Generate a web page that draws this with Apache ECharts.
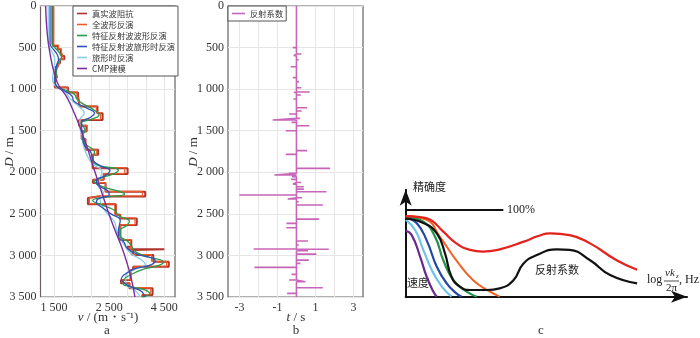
<!DOCTYPE html>
<html><head><meta charset="utf-8">
<script src="https://cdn.jsdelivr.net/npm/echarts@6/dist/echarts.min.js"></script>
<style>html,body{margin:0;padding:0;background:#fff}#c{width:700px;height:338px}</style>
</head><body><div id="c"></div>
<script>
// ---------- Tick labels ----------
const depthTicks = [0,500,1000,1500,2000,2500,3000,3500];
const depthTickLabels = ['0','500','1 000','1 500','2 000','2 500','3 000','3 500'];
const velGridValues = [1500,2000,2500,3000,3500,4000,4500];
const velTickValues = [1500,3000,4500];
const velTickLabels = ['1 500','2 500','4 500'];
const tGridValues = [-3,-2,-1,0,1,2,3];
const tTickValues = [-3,-1,1,3];
const tTickLabels = ['-3','-1','1','3'];

// ---------- Panel a: series names ----------
const seriesNames = ['真实波阻抗','全波形反演','特征反射波波形反演','特征反射波旅形时反演','旅形时反演','CMP建模'];

// True model: layer tops (m) and velocities (m/s)
const trueTop = [0,480,520,560,600,640,690,730,800,860,980,1040,1110,1210,1290,1370,1440,1510,1600,1730,1790,1950,2020,2090,2130,2235,2290,2310,2385,2510,2555,2635,2815,2895,2925,2935,2995,3075,3135,3175,3295,3335,3395,3475];
const trueVel = [1470,1600,1680,1720,1780,1660,1600,1540,1580,1520,1880,2150,2200,2680,2820,2180,2380,2250,2350,2700,2550,3500,2850,2560,2900,3980,2700,2420,3180,3300,3750,3300,3600,3500,4500,3650,4200,4620,3650,3580,3320,3550,4180,3900];

// Full waveform inversion: layer tops and velocities
const fwiTop = [0,470,515,555,595,640,690,730,800,860,975,1035,1105,1205,1285,1365,1435,1505,1600,1725,1785,1945,2015,2085,2125,2230,2285,2305,2380,2505,2550,2630,2810,2890,2990,3070,3130,3170,3290,3330,3390,3470];
const fwiVel = [1490,1620,1700,1730,1760,1650,1600,1550,1590,1530,1860,2120,2180,2650,2760,2220,2400,2260,2360,2660,2560,3420,2860,2590,2900,3900,2720,2460,3150,3290,3700,3310,3580,3600,4150,4560,3680,3590,3350,3560,4130,3920];

// [depth, velocity]
const greenPts = [[0,1440],[450,1440],[500,1520],[560,1640],[620,1700],[680,1620],[740,1560],[820,1560],[900,1530],[960,1560],[1010,1800],[1060,2050],[1120,2120],[1180,2300],[1240,2550],[1310,2720],[1360,2520],[1410,2230],[1450,2300],[1500,2340],[1560,2260],[1650,2330],[1760,2600],[1820,2560],[1900,2620],[1975,3250],[2025,3080],[2065,2780],[2110,2600],[2170,2800],[2220,3200],[2260,3420],[2300,2900],[2340,2550],[2400,2850],[2460,3150],[2520,3250],[2590,3550],[2640,3480],[2700,3300],[2760,3300],[2830,3500],[2880,3600],[2950,3700],[3010,4000],[3080,4480],[3120,4350],[3170,3900],[3230,3600],[3290,3400],[3340,3380],[3380,3650],[3420,4000],[3460,4100],[3500,3900]];
const bluePts = [[0,1390],[450,1390],[520,1480],[580,1580],[640,1620],[700,1580],[780,1540],[880,1520],[960,1560],[1020,1780],[1080,1980],[1150,2050],[1220,2350],[1290,2600],[1340,2480],[1400,2250],[1460,2250],[1540,2280],[1650,2300],[1760,2500],[1850,2550],[1920,2750],[1980,3020],[2040,2900],[2100,2650],[2160,2700],[2220,2950],[2270,3000],[2320,2700],[2360,2650],[2420,2800],[2500,3050],[2580,3300],[2630,3280],[2700,3250],[2770,3250],[2840,3400],[2920,3500],[2990,3800],[3060,4250],[3110,4150],[3160,3700],[3220,3450],[3280,3330],[3330,3400],[3380,3600],[3440,3900],[3500,3950]];
const lightBluePts = [[0,1340],[450,1340],[550,1440],[650,1520],[750,1500],[870,1460],[960,1540],[1040,1800],[1120,1950],[1200,2150],[1290,2320],[1370,2200],[1450,2200],[1550,2250],[1680,2300],[1800,2400],[1900,2550],[1990,2800],[2080,2750],[2160,2700],[2250,2850],[2320,2750],[2400,2800],[2500,2950],[2600,3150],[2700,3200],[2800,3300],[2900,3450],[2980,3600],[3060,3900],[3110,3980],[3170,3700],[3250,3450],[3330,3450],[3420,3700],[3500,3850]];
const cmpPts = [[0,1270],[200,1290],[400,1330],[600,1400],[800,1500],[950,1620],[1100,1850],[1300,2060],[1500,2240],[1700,2400],[1900,2540],[2100,2690],[2300,2840],[2500,2990],[2700,3160],[2900,3340],[3100,3490],[3300,3610],[3500,3700]];

// ---------- Panel b: reflection coefficients ----------
const reflDepth = [501,578,598,646,730,782,814,862,910,983,1035,1040,1071,1119,1223,1263,1299,1352,1372,1400,1440,1500,1564,1740,1785,1833,1881,1953,2013,2033,2053,2085,2122,2142,2174,2202,2234,2274,2306,2322,2354,2394,2563,2615,2667,2827,2875,2922,2926,2944,2984,3056,3096,3144,3228,3296,3316,3389,3457];
const reflValue = [-0.19,0.26,-0.14,0.12,-0.30,-0.10,0.07,-0.19,0.14,0.25,0.70,-0.14,0.23,-0.16,0.56,0.28,-0.39,0.19,-1.25,-0.26,0.68,-0.56,0.05,0.56,-0.56,0.04,0.09,1.77,-0.40,-1.16,-0.23,-0.28,0.25,-0.18,0.39,0.39,1.58,-3.0,0.30,-0.46,0.12,1.39,1.19,-0.53,-0.53,0.60,0.12,-2.25,1.70,0.61,1.05,0.65,0.21,-2.21,-0.26,-0.39,0.47,1.39,-0.49];

// ---------- Panel c: schematic curves [x, accuracy %] ----------
const cRed = [[0,93],[0.5,92],[1.0,89],[1.56,75],[2.1,61.5],[2.67,54],[3.2,52],[3.9,54.6],[4.9,63.5],[5.5,70],[6.0,73],[6.8,71],[7.65,61.5],[8.75,42],[9.6,31]];
const cBlack = [[0,90],[0.73,85],[1.29,73],[1.63,50],[1.9,23],[2.25,11.5],[2.67,7.7],[3.36,7.7],[3.9,9.6],[4.47,19],[4.88,38],[5.44,48],[6.27,54.6],[6.8,54],[7.65,42],[8.48,25],[9.6,15.4]];
const cOrange = [[0,93],[0.87,88.5],[1.42,69],[2.1,42],[2.8,19],[3.5,5.8],[3.9,0]];
const cGreen = [[0,92],[0.73,86.5],[1.22,69],[1.56,42],[1.98,19],[2.53,5.8],[2.95,0]];
const cBlue = [[0,91.5],[0.46,84.6],[0.87,65],[1.29,34.6],[1.7,15.4],[2.1,3.8],[2.32,0]];
const cLightBlue = [[0,88.5],[0.39,77],[0.73,54],[1.15,27],[1.56,9.6],[1.9,0]];
const cPurple = [[0,76],[0.25,71],[0.6,46],[0.87,23],[1.15,5.8],[1.29,0]];
const c100 = [[0,100],[4.05,100]];

// ---------- builders ----------
const DEPTH_MAX = 3500;
function stepLine(tops, vels) {
  const pts = [];
  for (let i = 0; i < tops.length; i++) {
    const bot = i + 1 < tops.length ? tops[i + 1] : DEPTH_MAX;
    pts.push([vels[i], tops[i]], [vels[i], bot]);
  }
  return pts;
}
function swap(pairs) { return pairs.map(p => [p[1], p[0]]); }
function spikes(depths, vals) {
  const pts = [[0, 0]];
  for (let i = 0; i < depths.length; i++) pts.push([0, depths[i]], [vals[i], depths[i]], [0, depths[i]]);
  pts.push([0, DEPTH_MAX]);
  return pts;
}

const SERIF = 'Liberation Serif';
const CJK = 'Noto Sans CJK SC';
const FRAME = '#6a6262';
const GRIDC = '#e6e6e6';
const colA = ['#b0332c','#f05a28','#2a9a4a','#2c55b5','#86cdea','#7b2d9b'];

function depthAxis(gi) {
  return {
    type: 'value', gridIndex: gi, inverse: true, min: 0, max: DEPTH_MAX, interval: 500,
    axisLine: { show: false }, axisTick: { show: false },
    axisLabel: { fontFamily: SERIF, fontSize: 12, color: '#333', margin: 4,
      formatter: v => depthTickLabels[depthTicks.indexOf(v)] ?? '' },
    splitLine: { show: true, lineStyle: { color: GRIDC, width: 1 } }
  };
}
function lineS(name, data, color, width, xi, smooth, z) {
  return { type: 'line', name, data, xAxisIndex: xi, yAxisIndex: xi, symbol: 'none', showSymbol: false,
    smooth: smooth, lineStyle: { color, width }, itemStyle: { color }, z: z || 2, silent: true, animation: false };
}
function gridMarks(values) {
  return { silent: true, animation: false, symbol: ['none', 'none'], z: 1, label: { show: false },
    lineStyle: { color: GRIDC, width: 1, type: 'solid' }, emphasis: { disabled: true },
    data: values.map(v => ({ xAxis: v })) };
}

const series = [
  lineS(seriesNames[0], stepLine(trueTop, trueVel), colA[0], 2, 0, false, 2),
  lineS(seriesNames[1], stepLine(fwiTop, fwiVel), colA[1], 1.2, 0, false, 3),
  lineS(seriesNames[4], swap(lightBluePts), colA[4], 1.3, 0, 0.5, 3),
  lineS(seriesNames[2], swap(greenPts), colA[2], 1.3, 0, 0.5, 3),
  lineS(seriesNames[3], swap(bluePts), colA[3], 1.3, 0, 0.5, 3),
  lineS(seriesNames[5], swap(cmpPts), colA[5], 1.4, 0, 0.5, 4),
  lineS('反射系数', spikes(reflDepth, reflValue), '#c766b8', 1.6, 1, false, 2),
  lineS('c100', c100, '#111', 2.2, 2, false, 3),
  lineS('cPurple', cPurple, '#6a2a8e', 2.2, 2, 0.5, 3),
  lineS('cLightBlue', cLightBlue, '#6fc3ea', 2.2, 2, 0.5, 3),
  lineS('cBlue', cBlue, '#2147a8', 2.2, 2, 0.5, 3),
  lineS('cGreen', cGreen, '#23924a', 2.2, 2, 0.5, 3),
  lineS('cOrange', cOrange, '#f06326', 2.0, 2, 0.5, 3),
  lineS('cBlack', cBlack, '#111', 2.2, 2, 0.5, 4),
  lineS('cRed', cRed, '#e3221c', 2.2, 2, 0.5, 4)
];
series[0].markLine = gridMarks(velGridValues);
series[6].markLine = gridMarks(tGridValues.filter(v => v !== 0));

function txt(x, y, text, font, size, align, extra) {
  return { type: 'text', x, y, style: Object.assign({ text, fontFamily: font, fontSize: size, fill: '#222',
    align, verticalAlign: 'middle', textAlign: align, textVerticalAlign: 'middle' }, extra || {}) };
}
const italicRich = { i: { fontStyle: 'italic', fontFamily: SERIF, fontSize: 13, fill: '#333' } };

const option = {
  animation: false,
  grid: [
    { left: 40.5, top: 6, width: 134.5, height: 291, show: true, borderColor: FRAME, borderWidth: 1.2, backgroundColor: 'transparent' },
    { left: 228, top: 6, width: 135, height: 291, show: true, borderColor: FRAME, borderWidth: 1.2, backgroundColor: 'transparent' },
    { left: 405.7, top: 189.7, width: 281.3, height: 107 }
  ],
  xAxis: [
    { type: 'value', gridIndex: 0, min: 1130, max: 4790,
      axisLine: { show: false },
      axisTick: { show: false, customValues: velGridValues },
      axisLabel: { customValues: velTickValues, fontFamily: SERIF, fontSize: 12, color: '#333', margin: 5,
        formatter: v => velTickLabels[velTickValues.indexOf(v)] ?? '' },
      splitLine: { show: false } },
    { type: 'value', gridIndex: 1, min: -3.6, max: 3.5,
      axisLine: { show: false },
      axisTick: { show: false, customValues: tGridValues },
      axisLabel: { customValues: tTickValues, fontFamily: SERIF, fontSize: 12, color: '#333', margin: 5,
        formatter: v => tTickLabels[tTickValues.indexOf(v)] ?? '' },
      splitLine: { show: false } },
    { type: 'value', gridIndex: 2, min: 0, max: 11.67,
      axisLine: { show: true, onZero: false, symbol: ['none','arrow'], symbolSize: [9, 16], lineStyle: { color: '#111', width: 2 } },
      axisTick: { show: false }, axisLabel: { show: false }, splitLine: { show: false } }
  ],
  yAxis: [
    depthAxis(0), depthAxis(1),
    { type: 'value', gridIndex: 2, min: 0, max: 123.4,
      axisLine: { show: true, onZero: false, symbol: ['none','arrow'], symbolSize: [9, 16], lineStyle: { color: '#111', width: 2 } },
      axisTick: { show: false }, axisLabel: { show: false }, splitLine: { show: false } }
  ],
  legend: [
    { data: seriesNames, orient: 'vertical', left: 73, top: 6, padding: [3, 3, 3, 4], itemGap: 2,
      icon: 'rect', itemWidth: 10, itemHeight: 1.6, itemTextGap: 4, selectedMode: false,
      backgroundColor: '#fff', borderColor: '#555', borderWidth: 1, borderRadius: 0,
      textStyle: { fontFamily: CJK + ',' + SERIF, fontSize: 8.3, lineHeight: 9, color: '#333' } },
    { data: ['反射系数'], orient: 'vertical', left: 228, top: 6, padding: [3, 3, 3, 4],
      icon: 'rect', itemWidth: 13, itemHeight: 1.6, itemTextGap: 4, selectedMode: false,
      backgroundColor: '#fff', borderColor: '#555', borderWidth: 1, borderRadius: 0,
      textStyle: { fontFamily: CJK, fontSize: 8.3, lineHeight: 9, color: '#333' } }
  ],
  series,
  graphic: [
    Object.assign(txt(10, 152, '{i|D} / m', SERIF, 13, 'center', { rich: italicRich, fill: '#333' }), { rotation: Math.PI / 2 }),
    Object.assign(txt(194, 152, '{i|D} / m', SERIF, 13, 'center', { rich: italicRich, fill: '#333' }), { rotation: Math.PI / 2 }),
    txt(108, 318, '{i|v} / (m・s⁻¹)', SERIF, 13, 'center', { rich: italicRich, fill: '#333' }),
    txt(296, 318, '{i|t} / s', SERIF, 13, 'center', { rich: italicRich, fill: '#333' }),
    txt(107, 331, 'a', SERIF, 13, 'center', { fill: '#333' }),
    txt(296, 331, 'b', SERIF, 13, 'center', { fill: '#333' }),
    txt(541, 331, 'c', SERIF, 13, 'center', { fill: '#333' }),
    txt(413, 187, '精确度', CJK, 11, 'left'),
    txt(507, 210, '100%', SERIF, 12, 'left'),
    txt(407, 283, '速度', CJK, 11, 'left'),
    txt(535, 270, '反射系数', CJK, 11, 'left'),
    txt(647, 280, 'log', SERIF, 12, 'left'),
    txt(665, 273, 'vk', SERIF, 11, 'left', { fontStyle: 'italic' }),
    txt(676, 276.5, 'z', SERIF, 7, 'left', { fontStyle: 'italic' }),
    { type: 'line', shape: { x1: 664, y1: 281, x2: 679, y2: 281 }, style: { stroke: '#222', lineWidth: 0.8 } },
    txt(671.5, 288, '2π', SERIF, 11, 'center'),
    txt(679, 280, ', Hz', SERIF, 12, 'left')
  ]
};

const chart = echarts.init(document.getElementById('c'), null, { renderer: 'canvas' });
chart.setOption(option);
</script>
</body></html>
